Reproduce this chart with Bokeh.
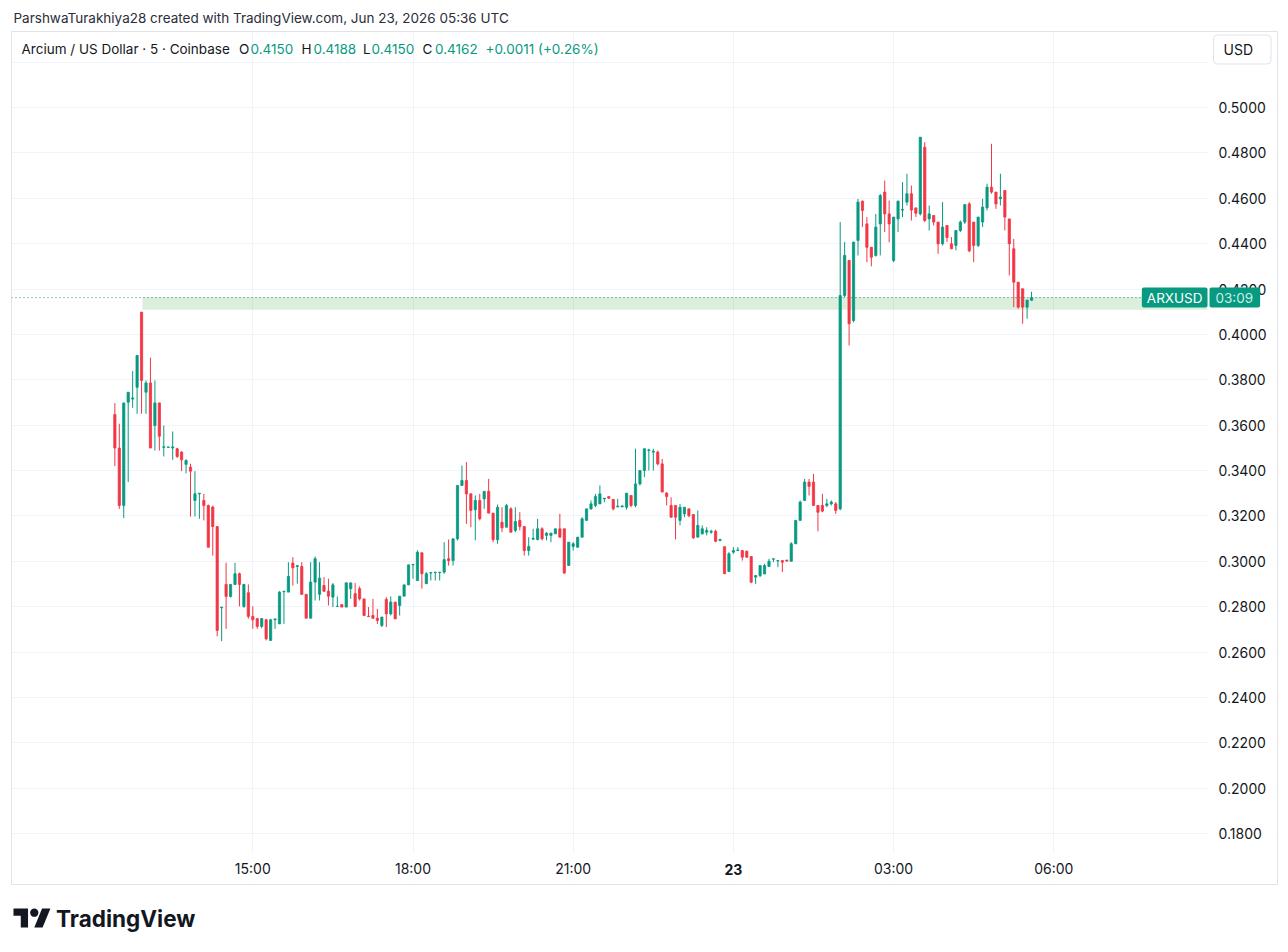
from bokeh.plotting import figure
from bokeh.models import (ColumnDataSource, Range1d, FixedTicker, NumeralTickFormatter, Label)
from bokeh.layouts import column
from bokeh.embed import file_html
from bokeh.resources import INLINE
from bokeh.core.properties import value

FONT = "Inter"
UP = "#089981"
DOWN = "#F23645"
INK = "#131722"
GRID = "#f0f3fa"

# ---------------- data (5-minute candles, ARX/USD, Coinbase) ----------------
# candle index: 0 = 12:25 UTC, 31 = 15:00, 139 = 00:00 (23 Jun), 206 = 05:35
opens = [
    .3647, .3499, .3246, .3701, .3715, .3767, .4098, .3745, .3786, .3598,
    .3698, .3502, .3502, .3499, .3496, .3481, .3427, .3415, .3268, .3297,
    .3268, .3246, .3239, .3153, .2795, .2898, .2845, .2898, .2945, .2801,
    .2861, .2757, .2747, .2713, .2742, .2651, .2742, .2724, .2866, .2864,
    .2992, .2977, .2977, .2854, .2749, .2908, .2854, .2893, .2868, .2842,
    .2801, .2809, .2798, .2879, .2857, .2879, .2834, .2758, .2761, .2749,
    .2717, .2832, .2768, .2820, .2805, .2846, .2896, .2984, .2915, .3037,
    .2901, .2948, .2950, .2950, .2952, .3011, .3003, .3099, .3334, .3356,
    .3297, .3227, .3268, .3275, .3308, .3212, .3095, .3172, .3150, .3231,
    .3136, .3180, .3153, .3047, .3097, .3096, .3143, .3114, .3114, .3121,
    .3143, .3143, .2981, .3065, .3062, .3106, .3180, .3231, .3246, .3253,
    .3275, .3285, .3272, .3240, .3240, .3238, .3290, .3246, .3341, .3400,
    .3488, .3481, .3481, .3429, .3300, .3246, .3246, .3180, .3209, .3231,
    .3206, .3106, .3121, .3128, .3128, .3132, .3092, .3064, .2955, .3040,
    .3047, .3047, .3044, .3021, .2930, .2937, .2944, .2977, .3009, .3001,
    .3003, .3005, .3000, .3077, .3180, .3268, .3349, .3349, .3246, .3246,
    .3246, .3253, .3253, .3231, .4171, .4326, .4061, .4414, .4587, .4487,
    .4384, .4348, .4487, .4627, .4531, .4326, .4509, .4548, .4583, .4620,
    .4557, .4531, .4825, .4509, .4524, .4495, .4399, .4480, .4399, .4392,
    .4458, .4495, .4575, .4495, .4392, .4495, .4558, .4649, .4627, .4598,
    .4634, .4509, .4377, .4230, .4201, .4120, .4150,
]
highs = [
    .3697, .3606, .3698, .3745, .3838, .3907, .4098, .3797, .3897, .3797,
    .3698, .3598, .3504, .3572, .3500, .3485, .3450, .3430, .3397, .3300,
    .3297, .3250, .3245, .3153, .2798, .2993, .2900, .2993, .2950, .2900,
    .2898, .2801, .2750, .2750, .2746, .2746, .2746, .2868, .2868, .2996,
    .3018, .2981, .2996, .2854, .2996, .3021, .2996, .2930, .2923, .2904,
    .2845, .2809, .2905, .2908, .2904, .2889, .2834, .2798, .2834, .2790,
    .2754, .2842, .2845, .2820, .2846, .2896, .2984, .2986, .3048, .3040,
    .2952, .2950, .2952, .2952, .3084, .3096, .3099, .3334, .3422, .3437,
    .3300, .3290, .3297, .3308, .3363, .3212, .3250, .3238, .3253, .3238,
    .3238, .3216, .3153, .3106, .3143, .3187, .3150, .3128, .3124, .3143,
    .3209, .3143, .3084, .3084, .3106, .3194, .3231, .3268, .3297, .3334,
    .3278, .3285, .3275, .3275, .3246, .3300, .3290, .3496, .3400, .3496,
    .3496, .3496, .3488, .3451, .3305, .3282, .3246, .3253, .3238, .3231,
    .3206, .3224, .3158, .3150, .3139, .3139, .3099, .3064, .3040, .3062,
    .3062, .3050, .3047, .3021, .2937, .2981, .2989, .3011, .3011, .3003,
    .3003, .3006, .3084, .3180, .3268, .3363, .3363, .3385, .3246, .3297,
    .3275, .3268, .3261, .4495, .4407, .4326, .4407, .4597, .4590, .4517,
    .4384, .4531, .4619, .4678, .4590, .4517, .4590, .4671, .4708, .4656,
    .4561, .4869, .4847, .4568, .4524, .4495, .4583, .4480, .4429, .4458,
    .4502, .4572, .4583, .4495, .4517, .4598, .4664, .4840, .4627, .4708,
    .4634, .4509, .4421, .4230, .4201, .4152, .4188,
]
lows = [
    .3419, .3231, .3190, .3349, .3676, .3650, .3650, .3650, .3499, .3488,
    .3488, .3462, .3500, .3447, .3455, .3397, .3388, .3197, .3197, .3187,
    .3180, .3060, .3025, .2669, .2648, .2702, .2840, .2895, .2801, .2795,
    .2747, .2702, .2702, .2705, .2651, .2651, .2702, .2724, .2724, .2864,
    .2893, .2901, .2854, .2749, .2749, .2827, .2827, .2864, .2805, .2798,
    .2798, .2798, .2798, .2834, .2798, .2827, .2761, .2754, .2746, .2724,
    .2710, .2710, .2761, .2746, .2761, .2846, .2896, .2923, .2915, .2879,
    .2901, .2915, .2915, .2915, .2945, .2981, .2981, .3092, .3334, .3165,
    .3150, .3092, .3180, .3231, .3212, .3084, .3077, .3128, .3150, .3128,
    .3128, .3136, .3025, .3025, .3095, .3092, .3092, .3092, .3084, .3121,
    .3106, .2945, .2981, .3047, .3059, .3106, .3180, .3227, .3238, .3253,
    .3260, .3275, .3224, .3238, .3238, .3227, .3238, .3238, .3334, .3371,
    .3400, .3400, .3422, .3305, .3246, .3194, .3096, .3158, .3194, .3194,
    .3099, .3106, .3118, .3114, .3121, .3084, .3088, .2945, .2952, .3033,
    .3045, .3003, .3015, .2903, .2900, .2930, .2944, .2977, .2996, .2974,
    .2952, .2998, .2999, .3077, .3180, .3268, .3290, .3246, .3132, .3216,
    .3238, .3246, .3209, .3224, .4164, .3951, .4053, .4348, .4473, .4318,
    .4300, .4343, .4348, .4451, .4406, .4318, .4451, .4517, .4568, .4502,
    .4517, .4524, .4495, .4458, .4480, .4355, .4392, .4407, .4377, .4370,
    .4451, .4487, .4362, .4318, .4385, .4473, .4546, .4620, .4553, .4568,
    .4458, .4260, .4120, .4113, .4047, .4069, .4150,
]
closes = [
    .3499, .3246, .3698, .3745, .3720, .3907, .3797, .3786, .3499, .3698,
    .3551, .3505, .3504, .3504, .3462, .3447, .3444, .3397, .3297, .3300,
    .3246, .3062, .3153, .2695, .2798, .2845, .2898, .2945, .2898, .2898,
    .2757, .2742, .2713, .2747, .2658, .2742, .2746, .2864, .2868, .2933,
    .2971, .2981, .2854, .2749, .2908, .3011, .2926, .2868, .2846, .2896,
    .2801, .2798, .2905, .2904, .2801, .2834, .2761, .2756, .2749, .2739,
    .2754, .2768, .2820, .2746, .2846, .2896, .2984, .2986, .3040, .2945,
    .2945, .2950, .2952, .2952, .3007, .3003, .3099, .3334, .3356, .3297,
    .3224, .3268, .3187, .3308, .3212, .3095, .3238, .3147, .3246, .3128,
    .3175, .3153, .3047, .3065, .3101, .3143, .3099, .3124, .3124, .3143,
    .3106, .2948, .3084, .3077, .3106, .3187, .3231, .3253, .3285, .3297,
    .3278, .3278, .3231, .3243, .3244, .3300, .3246, .3341, .3400, .3496,
    .3491, .3485, .3429, .3305, .3285, .3194, .3194, .3238, .3238, .3201,
    .3103, .3158, .3143, .3136, .3132, .3088, .3096, .2945, .3033, .3047,
    .3050, .3018, .3018, .2908, .2937, .2981, .2981, .3000, .3011, .3003,
    .2996, .3001, .3077, .3180, .3261, .3349, .3330, .3246, .3216, .3221,
    .3253, .3261, .3224, .4171, .4348, .4047, .4407, .4583, .4546, .4384,
    .4340, .4473, .4612, .4531, .4487, .4517, .4587, .4551, .4620, .4548,
    .4534, .4869, .4502, .4531, .4495, .4399, .4473, .4427, .4377, .4458,
    .4495, .4572, .4368, .4392, .4517, .4561, .4649, .4627, .4575, .4605,
    .4517, .4399, .4230, .4120, .4120, .4151, .4162,
]
time_tick_index = [31, 67, 103, 139, 175, 211]
time_tick_labels = ["15:00", "18:00", "21:00", "23", "03:00", "06:00"]
price_ticks = [0.18, 0.20, 0.22, 0.24, 0.26, 0.28, 0.30, 0.32, 0.34,
               0.36, 0.38, 0.40, 0.42, 0.44, 0.46, 0.48, 0.50]
grid_price_ticks = price_ticks + [0.52]
band_start_index = 6.2
band_low = 0.4108
band_high = 0.4165
symbol = "ARXUSD"
countdown = "03:09"
currency = "USD"
title_text = "Arcium / US Dollar · 5 · Coinbase"
change_text = "+0.0011 (+0.26%)"
credit_text = "ParshwaTurakhiya28 created with TradingView.com, Jun 23, 2026 05:36 UTC"

# ---------------- geometry helpers (page pixel -> data) ----------------
PX_PER_BAR = 4.45
X_1500 = 252.3
PX_PER_UNIT = 2268.75


def XI(xr):
    return 31 + (xr - X_1500) / PX_PER_BAR


def YP(yr):
    return 0.5 - (yr - 107) / PX_PER_UNIT


PANE_L, PANE_R, PANE_T, PANE_B = 11, 1277, 31, 884   # outer pane (frame)
PLOT_R, PLOT_B = 1207, 851                           # price/time scale edges

n = len(closes)
src = ColumnDataSource(dict(
    i=list(range(n)), o=opens, h=highs, l=lows, c=closes,
    top=[max(o, c) for o, c in zip(opens, closes)],
    bot=[min(o, c) for o, c in zip(opens, closes)],
    col=[UP if c >= o else DOWN for o, c in zip(opens, closes)],
))


def bare_figure(height, y0, y1):
    fig = figure(width=1288, height=height, x_range=Range1d(10, 1288), y_range=Range1d(y1, y0),
                 output_backend="svg", toolbar_location=None,
                 min_border_left=0, min_border_right=0, min_border_top=0, min_border_bottom=0,
                 x_axis_location=None, y_axis_location=None, outline_line_color=None,
                 background_fill_color="white", border_fill_color="white")
    fig.grid.visible = False
    return fig


# ---------------- header (credit line) ----------------
h = bare_figure(31, 0, 31)
h.text(x=[12], y=[17.5], text=[credit_text], text_font=value(FONT), text_font_size="13.5px",
       text_baseline="middle", text_color="#2a2e39")

# ---------------- main chart pane ----------------
p = figure(width=1288, height=859,
           x_range=Range1d(XI(PANE_L), XI(PANE_R)), y_range=Range1d(YP(PANE_B), YP(PANE_T)),
           output_backend="svg", toolbar_location=None, y_axis_location="right",
           min_border_left=PANE_L, min_border_right=1288 - PANE_R,
           min_border_top=0, min_border_bottom=859 - (PANE_B - PANE_T),
           background_fill_color="white", border_fill_color="white",
           outline_line_color="#e0e3eb", outline_line_width=1)

ya = p.yaxis[0]
ya.ticker = FixedTicker(ticks=price_ticks)
ya.formatter = NumeralTickFormatter(format="0.0000")
ya.fixed_location = XI(PLOT_R)
xa = p.xaxis[0]
xa.ticker = FixedTicker(ticks=time_tick_index)
xa.major_label_overrides = {t: (lab if lab != "23" else "") for t, lab in zip(time_tick_index, time_tick_labels)}
xa.fixed_location = YP(PLOT_B)
for ax in (xa, ya):
    ax.axis_line_color = None
    ax.major_tick_line_color = None
    ax.minor_tick_line_color = None
    ax.major_tick_out = 0
    ax.major_tick_in = 0
    ax.major_label_text_font = FONT
    ax.major_label_text_font_size = "14px"
    ax.major_label_text_color = INK
ya.major_label_standoff = 11
xa.major_label_standoff = 8

p.xgrid.ticker = FixedTicker(ticks=time_tick_index)
p.ygrid.ticker = FixedTicker(ticks=grid_price_ticks)
p.grid.grid_line_color = GRID
p.grid.grid_line_width = 1

# highlighted zone and last-price line
p.quad(left=[band_start_index], right=[XI(PLOT_R)], bottom=[band_low], top=[band_high],
       fill_color="#4caf50", fill_alpha=0.2, line_color=None)
p.segment(x0=[XI(PANE_L)], x1=[XI(PLOT_R)], y0=[closes[-1]], y1=[closes[-1]],
          line_color=UP, line_dash="1 3", line_width=1)

# candles
p.segment(x0="i", y0="l", x1="i", y1="h", source=src, line_color="col", line_width=1)
p.vbar(x="i", width=0.5, top="top", bottom="bot", source=src,
       fill_color="col", line_color="col", line_width=0.8)

# price-scale and time-scale areas (keep grid lines inside the plotting area)
p.quad(left=[XI(PLOT_R + 0.5)], right=[XI(PANE_R - 1)], bottom=[YP(PANE_B - 1)], top=[YP(PANE_T + 1)],
       fill_color="white", line_color=None)
p.quad(left=[XI(PANE_L + 1)], right=[XI(PANE_R - 1)], bottom=[YP(PANE_B - 1)], top=[YP(PLOT_B + 0.5)],
       fill_color="white", line_color=None)


def lab(x, y, text, color=INK, size="13.5px", style="normal", align="left", **kw):
    p.add_layout(Label(x=x, y=y, text=text, text_font=FONT, text_font_size=size,
                       text_color=color, text_font_style=style, text_align=align,
                       text_baseline="middle", **kw))


# legend line
hy = YP(48.5)
lab(XI(21), hy, title_text)
lab(XI(238.5), hy, "O")
lab(XI(250), hy, f"{opens[-1]:.4f}", color=UP)
lab(XI(301), hy, "H")
lab(XI(313), hy, f"{highs[-1]:.4f}", color=UP)
lab(XI(362.5), hy, "L")
lab(XI(371), hy, f"{lows[-1]:.4f}", color=UP)
lab(XI(422), hy, "C")
lab(XI(434.5), hy, f"{closes[-1]:.4f}", color=UP)
lab(XI(485), hy, change_text, color=UP)

# currency box (anchor = padded box edge)
lab(XI(1213), YP(49), currency, size="14px", background_fill_color="white",
    border_line_color="#e0e3eb", border_line_width=1, border_radius=4,
    padding=dict(left=10, right=18, top=6, bottom=6))

# last price label
lab(XI(1207), closes[-1], symbol, color="white", align="right", size="13.5px",
    background_fill_color=UP, border_radius=2,
    padding=dict(left=5, right=5, top=2, bottom=2))
lab(XI(1209), closes[-1], countdown, color="#cdeee6", size="13.5px",
    background_fill_color=UP, border_radius=2,
    padding=dict(left=6, right=7, top=2, bottom=2))

# bold day label on the time scale
lab(time_tick_index[3], YP(868.5), "23", size="14px", style="bold", align="center")

# ---------------- footer with logo ----------------
f = bare_figure(58, 890, 948)
s = 1.05
ox, oy = 12, 908 - 4 * s
T_u = [0, 14, 14, 7, 7, 0]
T_v = [4, 4, 22, 22, 11, 11]
S_u = [20, 27.5, 35.5, 28]
S_v = [22, 4, 4, 22]
f.patch([ox + s * u for u in T_u], [oy + s * v for v in T_v], color=INK, line_width=0)
f.patch([ox + s * u for u in S_u], [oy + s * v for v in S_v], color=INK, line_width=0)
f.circle(x=[ox + s * 20], y=[oy + s * 8], radius=4 * s, color=INK, line_width=0)
f.text(x=[55], y=[917.5], text=["TradingView"], text_font=value(FONT), text_font_style="bold",
       text_font_size="22.5px", text_baseline="middle", text_color=INK)

layout = column(h, p, f, spacing=0)
open("out.html", "w").write(file_html(layout, INLINE))
